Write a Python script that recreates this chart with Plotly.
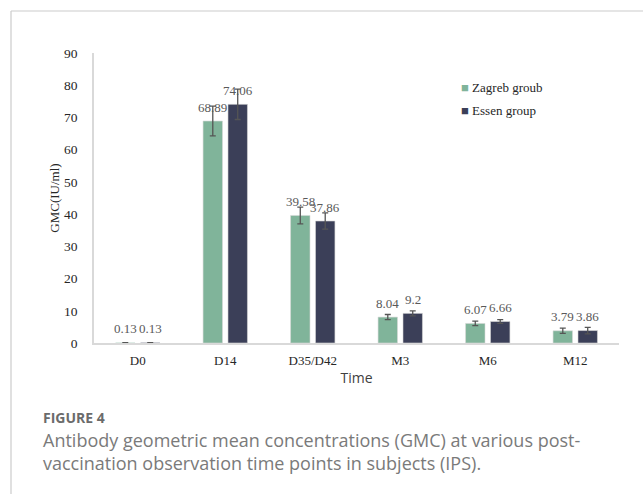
import plotly.graph_objects as go

# GMC values (IU/ml) at each observation time point
time_points = ["D0", "D14", "D35/D42", "M3", "M6", "M12"]
zagreb_gmc = [0.13, 68.89, 39.58, 8.04, 6.07, 3.79]
essen_gmc = [0.13, 74.06, 37.86, 9.20, 6.66, 3.86]
zagreb_err = [None, 4.6, 2.6, 0.8, 0.7, 0.8]
essen_err = [None, 4.7, 2.5, 0.8, 0.6, 1.0]
series_names = ["Zagreb groub", "Essen group"]
series_colors = ["#80b49a", "#3b3f58"]

W, H = 643, 494
ML, MR, MT, MB = 94, 24, 53, 151
PW, PH = W - ML - MR, H - MT - MB


def px_x(px):
    return (px - ML) / PW


def px_y(py):
    return (H - MB - py) / PH


SERIF = "Liberation Serif, Times New Roman, serif"
SANS = "Open Sans, Lato, sans-serif"

fig = go.Figure()
for name, vals, errs, col in zip(series_names, [zagreb_gmc, essen_gmc],
                                 [zagreb_err, essen_err], series_colors):
    # sub-pixel bars get no outline and a faint fill
    edge_w = [0 if v < 1 else 0.6 for v in vals]
    fill_op = [0.25 if v < 1 else 1.0 for v in vals]
    fig.add_trace(go.Bar(
        x=time_points, y=vals, name=name,
        marker=dict(color=col, opacity=fill_op,
                    line=dict(color="#d8d8d8", width=edge_w)),
        error_y=dict(type="data", array=errs, visible=True,
                     color="#555555", thickness=1.3, width=3),
        showlegend=False,
    ))

# value labels above each bar
bar_offset = 87.0 * 0.57 / 4
annotations = []
for vals, shift in [(zagreb_gmc, -bar_offset), (essen_gmc, bar_offset)]:
    for cat, v in zip(time_points, vals):
        annotations.append(dict(
            x=cat, y=v, xref="x", yref="y", text=f"{v:g}",
            showarrow=False, xshift=shift, yshift=14,
            font=dict(family=SERIF, size=13, color="#595959"),
        ))

# legend entries
for i, (name, col) in enumerate(zip(series_names, series_colors)):
    annotations.append(dict(
        x=px_x(459), y=px_y(87 + 24 * i), xref="paper", yref="paper",
        xanchor="left", yanchor="middle", showarrow=False,
        text=f'<span style="color:{col}">■</span> {name}',
        font=dict(family=SERIF, size=13, color="#262626"),
    ))

# figure caption
annotations.append(dict(
    x=px_x(41), y=px_y(417), xref="paper", yref="paper",
    xanchor="left", yanchor="middle", showarrow=False,
    text="<b>FIGURE 4</b>",
    font=dict(family=SANS, size=14, color="#6b6b6b"),
))
for j, line in enumerate([
    "Antibody geometric mean concentrations (GMC) at various post-",
    "vaccination observation time points in subjects (IPS).",
]):
    annotations.append(dict(
        x=px_x(41), y=px_y(440 + 23 * j), xref="paper", yref="paper",
        xanchor="left", yanchor="middle", showarrow=False,
        text=line, font=dict(family=SANS, size=18, color="#7a7a7a"),
    ))

# frame lines around the figure
shapes = [
    dict(type="line", xref="paper", yref="paper",
         x0=px_x(11), x1=px_x(W), y0=px_y(11), y1=px_y(11),
         line=dict(color="#cccccc", width=1.2)),
    dict(type="line", xref="paper", yref="paper",
         x0=px_x(11), x1=px_x(11), y0=px_y(11), y1=px_y(H),
         line=dict(color="#cccccc", width=1.2)),
]

fig.update_layout(
    width=W, height=H,
    margin=dict(l=ML, r=MR, t=MT, b=MB, pad=0),
    paper_bgcolor="white", plot_bgcolor="white",
    barmode="group", bargap=0.43, bargroupgap=0.22,
    annotations=annotations, shapes=shapes,
    xaxis=dict(
        showgrid=False, showline=True, linecolor="#d9d9d9", linewidth=1.5,
        layer="above traces",
        ticks="", ticklabelstandoff=5,
        tickfont=dict(family=SERIF, size=13, color="#262626"),
        title=dict(text="Time", standoff=6,
                   font=dict(family=SANS, size=14, color="#404040")),
    ),
    yaxis=dict(
        range=[0, 90], dtick=10, showgrid=False, zeroline=False,
        showline=True, linecolor="#d9d9d9", linewidth=1.5,
        ticks="", ticklabelstandoff=12,
        tickfont=dict(family=SERIF, size=13.5, color="#262626"),
        title=dict(text="GMC(IU/ml)", standoff=1,
                   font=dict(family=SERIF, size=13, color="#262626")),
    ),
)

fig.write_html("out.html")
